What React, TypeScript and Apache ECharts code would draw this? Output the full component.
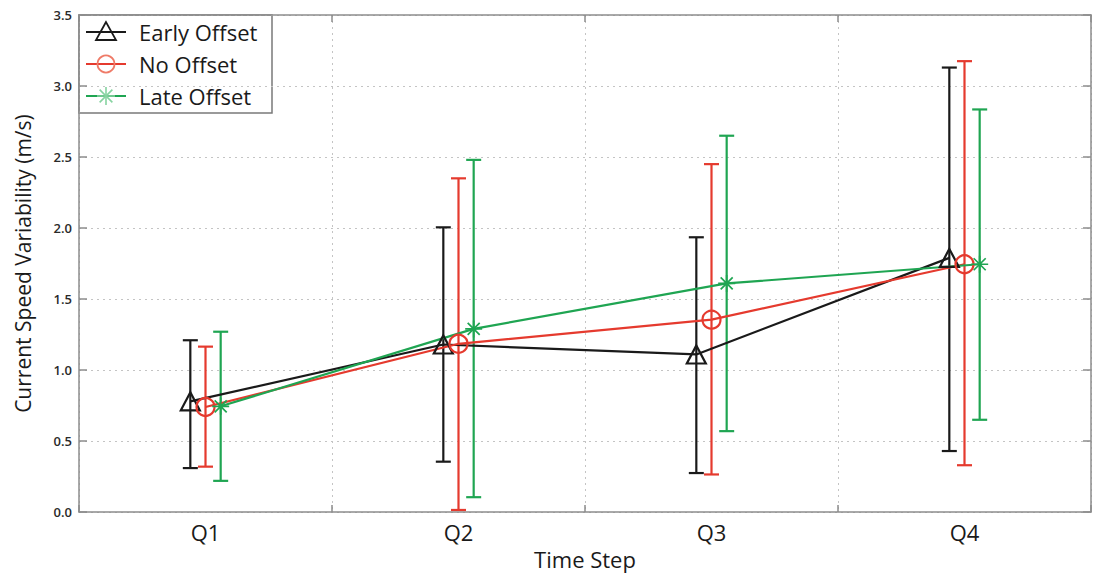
import React, { useEffect, useRef } from 'react';
import * as echarts from 'echarts';

const categories = ['Q1', 'Q2', 'Q3', 'Q4'];
const seriesNames = ['Early Offset', 'No Offset', 'Late Offset'];

const earlyMean = [0.78, 1.18, 1.11, 1.79];
const earlyLow = [0.31, 0.355, 0.275, 0.43];
const earlyHigh = [1.21, 2.005, 1.935, 3.13];

const noMean = [0.74, 1.185, 1.355, 1.745];
const noLow = [0.32, 0.015, 0.265, 0.33];
const noHigh = [1.165, 2.35, 2.45, 3.175];

const lateMean = [0.745, 1.29, 1.61, 1.745];
const lateLow = [0.22, 0.105, 0.57, 0.65];
const lateHigh = [1.27, 2.48, 2.65, 2.835];

const xOffsets = [-0.06, 0, 0.06];
const colors = ['#1a1a1a', '#e53a2e', '#1fa552'];
const legendMarkerColors = ['#1a1a1a', '#ef7b68', '#86d3a0'];

const FONT = '"Open Sans", "Noto Sans", sans-serif';

const ASTERISK =
  'path://M9 0 H11 V20 H9 Z M0 9 H20 V11 H0 Z ' +
  'M3.64 2.22 L17.78 16.36 L16.36 17.78 L2.22 3.64 Z ' +
  'M16.36 2.22 L17.78 3.64 L3.64 17.78 L2.22 16.36 Z';

export default function App() {
  const ref = useRef<HTMLDivElement>(null);

  useEffect(() => {
    if (!ref.current) return;
    const chart = echarts.init(ref.current, null, { renderer: 'svg' });

    const means = [earlyMean, noMean, lateMean];
    const lows = [earlyLow, noLow, lateLow];
    const highs = [earlyHigh, noHigh, lateHigh];
    const symbols = ['triangle', 'circle', ASTERISK];
    const symbolSizes: any[] = [[19, 18], 18, 17];

    const series: any[] = [];
    seriesNames.forEach((name, i) => {
      series.push({
        name: name + ' error',
        type: 'custom',
        xAxisIndex: 0,
        yAxisIndex: 0,
        z: 2,
        data: categories.map((_, k) => [k + 1 + xOffsets[i], lows[i][k], highs[i][k]]),
        renderItem: (params: any, api: any) => {
          const x = api.value(0);
          const lo = api.coord([x, api.value(1)]);
          const hi = api.coord([x, api.value(2)]);
          const cap = 7.5;
          const style = { stroke: colors[i], lineWidth: 2.2 };
          return {
            type: 'group',
            children: [
              { type: 'line', shape: { x1: lo[0], y1: lo[1], x2: hi[0], y2: hi[1] }, style },
              { type: 'line', shape: { x1: lo[0] - cap, y1: lo[1], x2: lo[0] + cap, y2: lo[1] }, style },
              { type: 'line', shape: { x1: hi[0] - cap, y1: hi[1], x2: hi[0] + cap, y2: hi[1] }, style },
            ],
          };
        },
      });
      series.push({
        name,
        type: 'line',
        xAxisIndex: 0,
        yAxisIndex: 0,
        z: 3,
        data: categories.map((_, k) => [k + 1 + xOffsets[i], means[i][k]]),
        symbol: symbols[i],
        symbolSize: symbolSizes[i],
        showAllSymbol: true,
        lineStyle: { color: colors[i], width: 2.2 },
        itemStyle:
          i === 2
            ? { color: colors[i], borderWidth: 0 }
            : { color: 'rgba(0,0,0,0)', borderColor: colors[i], borderWidth: 2.2 },
      });
    });

    const axisGray = '#8c8c8c';
    const gridLine = { show: true, lineStyle: { color: '#c4c4c4', type: [2, 4], width: 1 } };

    const legendRows = [32, 64, 96];
    const legendChildren: any[] = [
      {
        type: 'rect',
        shape: { x: 79, y: 15, width: 193, height: 98 },
        style: { fill: '#fff', stroke: '#7a7a7a', lineWidth: 1.5 },
      },
    ];
    seriesNames.forEach((name, i) => {
      const y = legendRows[i];
      legendChildren.push({
        type: 'line',
        shape: { x1: 86, y1: y, x2: 126, y2: y },
        style: { stroke: colors[i], lineWidth: 2.2 },
      });
      if (i === 0) {
        legendChildren.push({
          type: 'polygon',
          shape: { points: [[106, y - 10], [96, y + 8], [116, y + 8]] },
          style: { fill: 'none', stroke: legendMarkerColors[i], lineWidth: 1.8 },
        });
      } else if (i === 1) {
        legendChildren.push({
          type: 'circle',
          shape: { cx: 106, cy: y, r: 8.5 },
          style: { fill: 'none', stroke: legendMarkerColors[i], lineWidth: 1.8 },
        });
      } else {
        const r = 9;
        const d = r / Math.SQRT2;
        [
          [106, y - r, 106, y + r],
          [106 - r, y, 106 + r, y],
          [106 - d, y - d, 106 + d, y + d],
          [106 - d, y + d, 106 + d, y - d],
        ].forEach((s) =>
          legendChildren.push({
            type: 'line',
            shape: { x1: s[0], y1: s[1], x2: s[2], y2: s[3] },
            style: { stroke: legendMarkerColors[i], lineWidth: 1.6 },
          })
        );
      }
      legendChildren.push({
        type: 'text',
        x: 139,
        y,
        style: {
          text: name,
          fill: '#1a1a1a',
          font: `22px ${FONT}`,
          verticalAlign: 'middle',
          align: 'left',
        },
      });
    });

    chart.setOption({
      animation: false,
      backgroundColor: '#ffffff',
      grid: { left: 79, right: 1, top: 15, bottom: 57 },
      xAxis: [
        {
          type: 'value',
          position: 'bottom',
          min: 0.5,
          max: 4.5,
          interval: 1,
          axisLine: { show: true, lineStyle: { color: axisGray, width: 1.5 } },
          axisTick: { show: true, inside: true, length: 7, lineStyle: { color: axisGray, width: 1.5 } },
          axisLabel: { show: false },
          splitLine: gridLine,
        },
        {
          type: 'value',
          position: 'bottom',
          min: 0.5,
          max: 4.5,
          interval: 0.5,
          axisLine: { show: false },
          axisTick: { show: false },
          splitLine: { show: false },
          axisLabel: {
            show: true,
            margin: 9,
            fontSize: 22,
            fontFamily: FONT,
            color: '#1a1a1a',
            formatter: (v: number) => (Number.isInteger(v) && v >= 1 && v <= 4 ? categories[v - 1] : ''),
          },
          name: 'Time Step',
          nameLocation: 'middle',
          nameGap: 17,
          nameTextStyle: { fontSize: 22, fontFamily: FONT, color: '#1a1a1a' },
        },
        {
          type: 'value',
          position: 'top',
          min: 0.5,
          max: 4.5,
          interval: 1,
          axisLine: { show: true, lineStyle: { color: axisGray, width: 1.5 } },
          axisTick: { show: true, inside: true, length: 7, lineStyle: { color: axisGray, width: 1.5 } },
          axisLabel: { show: false },
          splitLine: { show: false },
        },
      ],
      yAxis: [
        {
          type: 'value',
          position: 'left',
          min: 0,
          max: 3.5,
          interval: 0.5,
          axisLine: { show: true, lineStyle: { color: axisGray, width: 1.5 } },
          axisTick: { show: true, inside: true, length: 8, lineStyle: { color: axisGray, width: 1.5 } },
          axisLabel: {
            margin: 7,
            fontSize: 13,
            fontWeight: 600,
            fontFamily: FONT,
            color: '#2a2a2a',
            formatter: (v: number) => v.toFixed(1),
          },
          splitLine: gridLine,
          name: 'Current Speed Variability (m/s)',
          nameLocation: 'middle',
          nameGap: 46,
          nameTextStyle: { fontSize: 21, fontFamily: FONT, color: '#1a1a1a' },
        },
        {
          type: 'value',
          position: 'right',
          min: 0,
          max: 3.5,
          interval: 0.5,
          axisLine: { show: true, lineStyle: { color: axisGray, width: 1.5 } },
          axisTick: { show: true, inside: true, length: 8, lineStyle: { color: axisGray, width: 1.5 } },
          axisLabel: { show: false },
          splitLine: { show: false },
        },
      ],
      series,
      graphic: [{ type: 'group', z: 100, children: legendChildren }],
    });

    return () => chart.dispose();
  }, []);

  return (
    <div
      ref={ref}
      style={{ position: 'absolute', left: 0, top: 0, width: 1094, height: 575, background: '#fff' }}
    />
  );
}
